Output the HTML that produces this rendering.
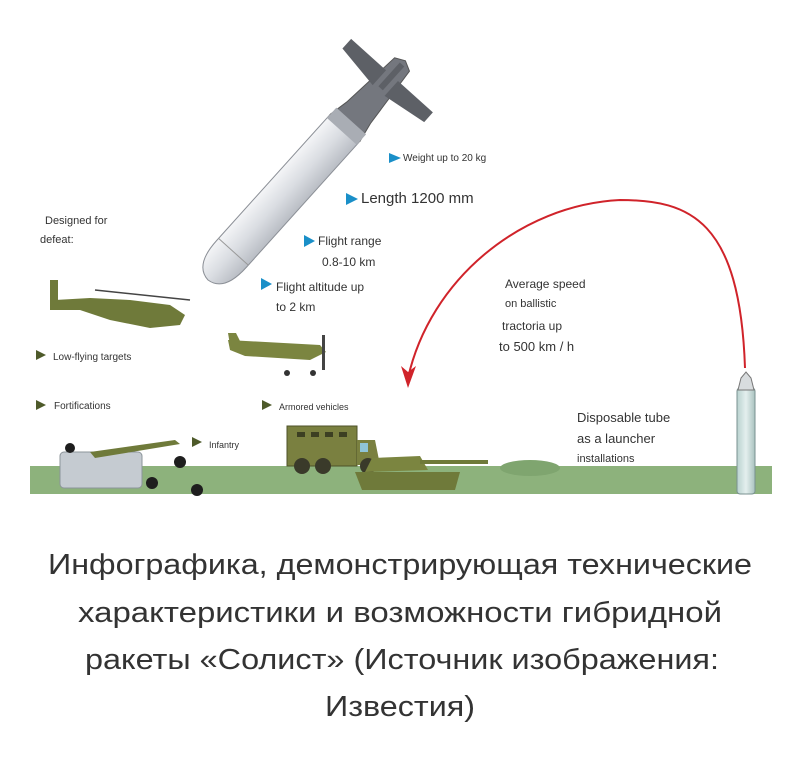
<!DOCTYPE html>
<html><head><meta charset="utf-8"><style>
html,body{margin:0;padding:0;background:#fff;width:800px;height:757px;overflow:hidden}
svg{display:block}
text{font-family:"Liberation Sans",sans-serif}
</style></head><body>
<svg width="800" height="757" viewBox="0 0 800 757" xmlns="http://www.w3.org/2000/svg">
<defs>
<linearGradient id="mb" x1="0" y1="0" x2="0" y2="1">
<stop offset="0" stop-color="#f4f5f7"/><stop offset="0.5" stop-color="#dadde2"/><stop offset="1" stop-color="#b9bdc4"/>
</linearGradient>
<linearGradient id="tb" x1="0" y1="0" x2="1" y2="0">
<stop offset="0" stop-color="#b9d2cf"/><stop offset="0.5" stop-color="#e4efee"/><stop offset="1" stop-color="#a9c2bf"/>
</linearGradient>
</defs>
<!-- ground -->
<rect x="30" y="466" width="742" height="28" fill="#8db27c"/>
<ellipse cx="530" cy="468" rx="30" ry="8" fill="#7fa56f"/>
<!-- missile -->
<g transform="translate(208,280) rotate(-48)">
<path d="M0,0 Q2,-20 35,-20 L205,-20 L205,20 L35,20 Q2,20 0,0Z" fill="url(#mb)" stroke="#8b8f96" stroke-width="1"/>
<path d="M205,-20 L225,-16 L290,-10 L295,0 L290,10 L225,16 L205,20Z" fill="#74777e" stroke="#555"/>
<rect x="200" y="-20" width="14" height="40" fill="#a9adb4"/>
<path d="M255,-8 L262,-55 L275,-55 L275,-8Z M255,8 L262,55 L275,55 L275,8Z" fill="#5d6066"/>
<path d="M258,-3 L290,-3 L290,3 L258,3Z" fill="#5d6066"/>
<line x1="38" y1="-20" x2="38" y2="20" stroke="#999"/>
</g>
<!-- red arc -->
<path d="M745,368 C740,220 690,200 620,200 C520,205 430,280 408,378" fill="none" stroke="#d0232a" stroke-width="2"/>
<path d="M408,388 L401,366 L408,372 L416,366Z" fill="#d0232a"/>
<!-- tube -->
<rect x="737" y="388" width="18" height="106" rx="3" fill="url(#tb)" stroke="#7a9290"/>
<path d="M738,390 L741,378 L746,372 L751,378 L754,390Z" fill="#d8dcde" stroke="#777"/>
<!-- labels -->
<g font-size="11" fill="#333">
<text x="45" y="224">Designed for</text>
<text x="40" y="243">defeat:</text>
<text x="403" y="161" font-size="10">Weight up to 20 kg</text>
<text x="361" y="203" font-size="15">Length 1200 mm</text>
<text x="318" y="245" font-size="12">Flight range</text>
<text x="322" y="266" font-size="12">0.8-10 km</text>
<text x="276" y="291" font-size="12">Flight altitude up</text>
<text x="276" y="311" font-size="12">to 2 km</text>
<text x="505" y="288" font-size="12">Average speed</text>
<text x="505" y="307" font-size="11">on ballistic</text>
<text x="502" y="330" font-size="12">tractoria up</text>
<text x="499" y="351" font-size="13">to 500 km / h</text>
<text x="53" y="360" font-size="10">Low-flying targets</text>
<text x="54" y="409" font-size="10">Fortifications</text>
<text x="279" y="410" font-size="9">Armored vehicles</text>
<text x="209" y="448" font-size="9">Infantry</text>
<text x="577" y="422" font-size="13">Disposable tube</text>
<text x="577" y="443" font-size="13">as a launcher</text>
<text x="577" y="462" font-size="11">installations</text>
</g>
<g fill="#1a8fc8">
<path d="M389,153 L401,158 L389,163Z"/><path d="M346,193 L358,199 L346,205Z"/>
<path d="M304,235 L315,241 L304,247Z"/><path d="M261,278 L272,284 L261,290Z"/>
</g>
<g fill="#4e5a2a">
<path d="M36,350 L46,355 L36,360Z"/><path d="M36,400 L46,405 L36,410Z"/>
<path d="M262,400 L272,405 L262,410Z"/><path d="M192,437 L202,442 L192,447Z"/>
</g>
<!-- helicopter -->
<g fill="#6f7a3a">
<path d="M55,300 L90,298 L130,300 L170,305 L185,315 L180,325 L150,328 L110,320 L80,310 L58,310Z"/>
<rect x="50" y="280" width="8" height="30"/>
<line x1="95" y1="290" x2="190" y2="300" stroke="#444" stroke-width="1.5"/>
</g>
<!-- plane -->
<g fill="#7b8540">
<path d="M228,340 L320,345 L326,352 L310,360 L245,356 L230,350Z"/>
<path d="M228,333 L236,333 L242,345 L230,345Z"/>
<rect x="322" y="335" width="3" height="35" fill="#444"/>
<circle cx="287" cy="373" r="3" fill="#333"/><circle cx="313" cy="373" r="3" fill="#333"/>
</g>
<!-- fortification -->
<rect x="60" y="452" width="82" height="36" rx="4" fill="#c5cbd1" stroke="#8c949a"/>
<path d="M90,452 L175,440 L180,444 L95,458Z" fill="#6f7a3a"/>
<g fill="#1e1e1e"><circle cx="180" cy="462" r="6"/><circle cx="152" cy="483" r="6"/><circle cx="197" cy="490" r="6"/><circle cx="70" cy="448" r="5"/></g>
<!-- truck -->
<rect x="287" y="426" width="70" height="40" fill="#7a8040" stroke="#4d5228"/>
<g fill="#3c3f22"><rect x="297" y="432" width="8" height="5"/><rect x="311" y="432" width="8" height="5"/><rect x="325" y="432" width="8" height="5"/><rect x="339" y="432" width="8" height="5"/></g>
<path d="M357,440 L375,440 L380,465 L357,465Z" fill="#7a8040"/><rect x="360" y="443" width="8" height="9" fill="#8fc5d8"/>
<g fill="#3a3a2a"><circle cx="302" cy="466" r="8"/><circle cx="323" cy="466" r="8"/><circle cx="368" cy="466" r="8"/></g>
<!-- tank -->
<path d="M355,472 L460,472 L455,490 L362,490Z" fill="#6f7a3a"/>
<path d="M372,458 L420,456 L428,470 L365,472Z" fill="#7b8540"/>
<rect x="420" y="460" width="68" height="4" fill="#6f7a3a"/>
<!-- caption -->
<g font-size="29" fill="#333" text-anchor="middle">
<text x="400" y="574" textLength="704" lengthAdjust="spacingAndGlyphs">Инфографика, демонстрирующая технические</text>
<text x="400" y="622" textLength="644" lengthAdjust="spacingAndGlyphs">характеристики и возможности гибридной</text>
<text x="402" y="669" textLength="634" lengthAdjust="spacingAndGlyphs">ракеты «Солист» (Источник изображения:</text>
<text x="400" y="716" textLength="150" lengthAdjust="spacingAndGlyphs">Известия)</text>
</g>
</svg>
</body></html>
